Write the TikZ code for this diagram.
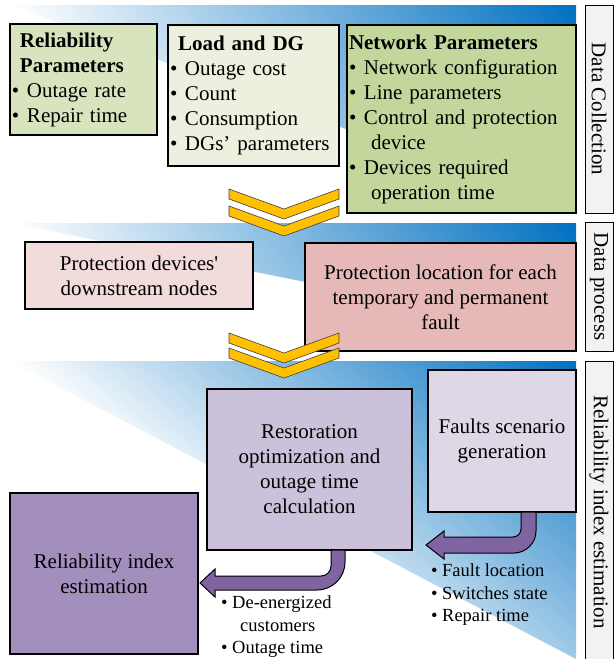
\documentclass[tikz,border=0pt]{standalone}
\usepackage{fontspec}
\setmainfont{Liberation Serif}[Ligatures=TeXOff]
\definecolor{gA}{HTML}{D7E4BD}
\definecolor{gB}{HTML}{EBF1DE}
\definecolor{gC}{HTML}{C3D69B}
\definecolor{rA}{HTML}{F2DCDB}
\definecolor{rB}{HTML}{E6B9B8}
\definecolor{pA}{HTML}{DED8E6}
\definecolor{pB}{HTML}{CCC1DA}
\definecolor{pC}{HTML}{A38FBD}
\definecolor{arrowpurple}{HTML}{8064A2}
\definecolor{chevgold}{HTML}{FFC000}
\definecolor{labelgray}{HTML}{F2F2F2}
\definecolor{deepblue}{HTML}{0070C0}
\definecolor{midblue}{HTML}{B2CFEA}
\newcommand{\mainsz}{\fontsize{21}{25}\selectfont}
\newcommand{\listsz}{\fontsize{18.5}{22.5}\selectfont}
\newcommand{\bul}{\makebox[15pt][l]{•}}
\newcommand{\sbul}{\makebox[11pt][l]{•}}
% #1 top y, #2 bottom-right y, #3 angle
\newcommand{\gradtri}[3]{%
  \begin{scope}
    \clip (10,#1) -- (576,#1) -- (576,#2) -- cycle;
    \begin{scope}[transform canvas={xshift=10pt, yshift=-#1pt, rotate=#3}]
      \pgfmathsetmacro{\plen}{566*cos(#3)}
      \shade[left color=white, middle color=midblue, right color=deepblue] (0,-900) rectangle (\plen,900);
    \end{scope}
  \end{scope}}
\newcommand{\chevshape}[1]{%
  \filldraw[chevron] (229,#1) -- (284,#1+20) -- (339,#1) -- (339,#1+10) -- (284,#1+30) -- (229,#1+10) -- cycle;}
\begin{document}
\begin{tikzpicture}[x=1pt, y=-1pt,
  box/.style={draw=black, line width=1.1pt, inner xsep=2pt, inner ysep=1pt, font=\mainsz},
  lbox/.style={box, align=left},
  cbox/.style={box, align=center},
  labelbox/.style={draw=black, line width=1pt, fill=labelgray, rotate=-90, font=\mainsz, inner sep=0pt, minimum height=28pt},
  listtext/.style={font=\listsz, align=left, inner sep=0pt, anchor=west},
  chevron/.style={fill=chevgold, draw=black!75, line width=0.6pt, line join=miter},
  blockarrow/.style={fill=arrowpurple, draw=black, line width=1pt, line join=miter}]
\useasboundingbox (0,0) rectangle (614,659);
\fill[white] (0,0) rectangle (614,659);

% background gradients
\gradtri{5}{214}{35}
\gradtri{223}{336}{35}
\gradtri{361}{659}{50}

% Data collection boxes
\node[lbox, fill=gA, text width=143pt, minimum height=111pt] (relpar) at (83.5,79.5)
  {\hspace*{8pt}\textbf{Reliability}\\\hspace*{8pt}\textbf{Parameters}\\\bul Outage rate\\\bul Repair time};
\node[lbox, fill=gB, text width=167pt, minimum height=141pt] (loaddg) at (253.5,95.5)
  {\hspace*{8pt}\textbf{Load and DG}\\\bul Outage cost\\\bul Count\\\bul Consumption\\\bul DGs’ parameters};
\node[lbox, fill=gC, text width=225pt, minimum height=188pt] (netpar) at (461.5,119)
  {\textbf{Network Parameters}\\\bul Network configuration\\\bul Line parameters\\\bul Control and protection\\\hspace*{22pt}device\\\bul Devices required\\\hspace*{22pt}operation time};

% Data process boxes
\node[cbox, fill=rA, minimum width=228pt, minimum height=67pt] (downnodes) at (139,275.5)
  {Protection devices'\\downstream nodes};
\node[cbox, fill=rB, minimum width=271pt, minimum height=108pt] (protloc) at (440.5,297)
  {Protection location for each\\temporary and permanent\\fault};

% Reliability estimation boxes
\node[cbox, fill=pA, minimum width=148pt, minimum height=142pt] (faults) at (502,441)
  {Faults scenario\\generation};
\node[cbox, fill=pB, minimum width=205pt, minimum height=161pt] (restor) at (309.5,469.5)
  {Restoration\\optimization and\\outage time\\calculation};
\node[cbox, fill=pC, minimum width=188pt, minimum height=161pt] (relidx) at (104,573.5)
  {Reliability index\\estimation};

% chevrons
\chevshape{189}
\chevshape{206}
\chevshape{333}
\chevshape{348}

% curved block arrows
\filldraw[blockarrow] (521,512) -- (521,529) .. controls (521,533.4) and (517.4,537) .. (513,537)
  -- (444,537) -- (444,531) -- (426,545) -- (444,559) -- (444,553) -- (514,553)
  .. controls (526,553) and (536,543) .. (536,531) -- (536,512) -- cycle;
\filldraw[blockarrow] (331,550) -- (331,566) .. controls (331,571.5) and (326.5,576) .. (321,576)
  -- (215,576) -- (215,569) -- (200,583) -- (215,597) -- (215,590) -- (317,590)
  .. controls (332.5,590) and (345,577.5) .. (345,562) -- (345,550) -- cycle;

% bullet lists
\node[listtext] (faultlist) at (431,595) {\sbul Fault location\\\sbul Switches state\\\sbul Repair time};
\node[listtext] (delist) at (221,627) {\sbul De-energized\\\hspace*{19pt}customers\\\sbul Outage time};

% stage labels
\node[labelbox, minimum width=208pt] (labcollect) at (599,109) {Data Collection};
\node[labelbox, minimum width=129pt] (labprocess) at (599,286.5) {Data process};
\node[labelbox, minimum width=302pt] (labestim) at (599,512) {Reliability index estimation};
\end{tikzpicture}
\end{document}
